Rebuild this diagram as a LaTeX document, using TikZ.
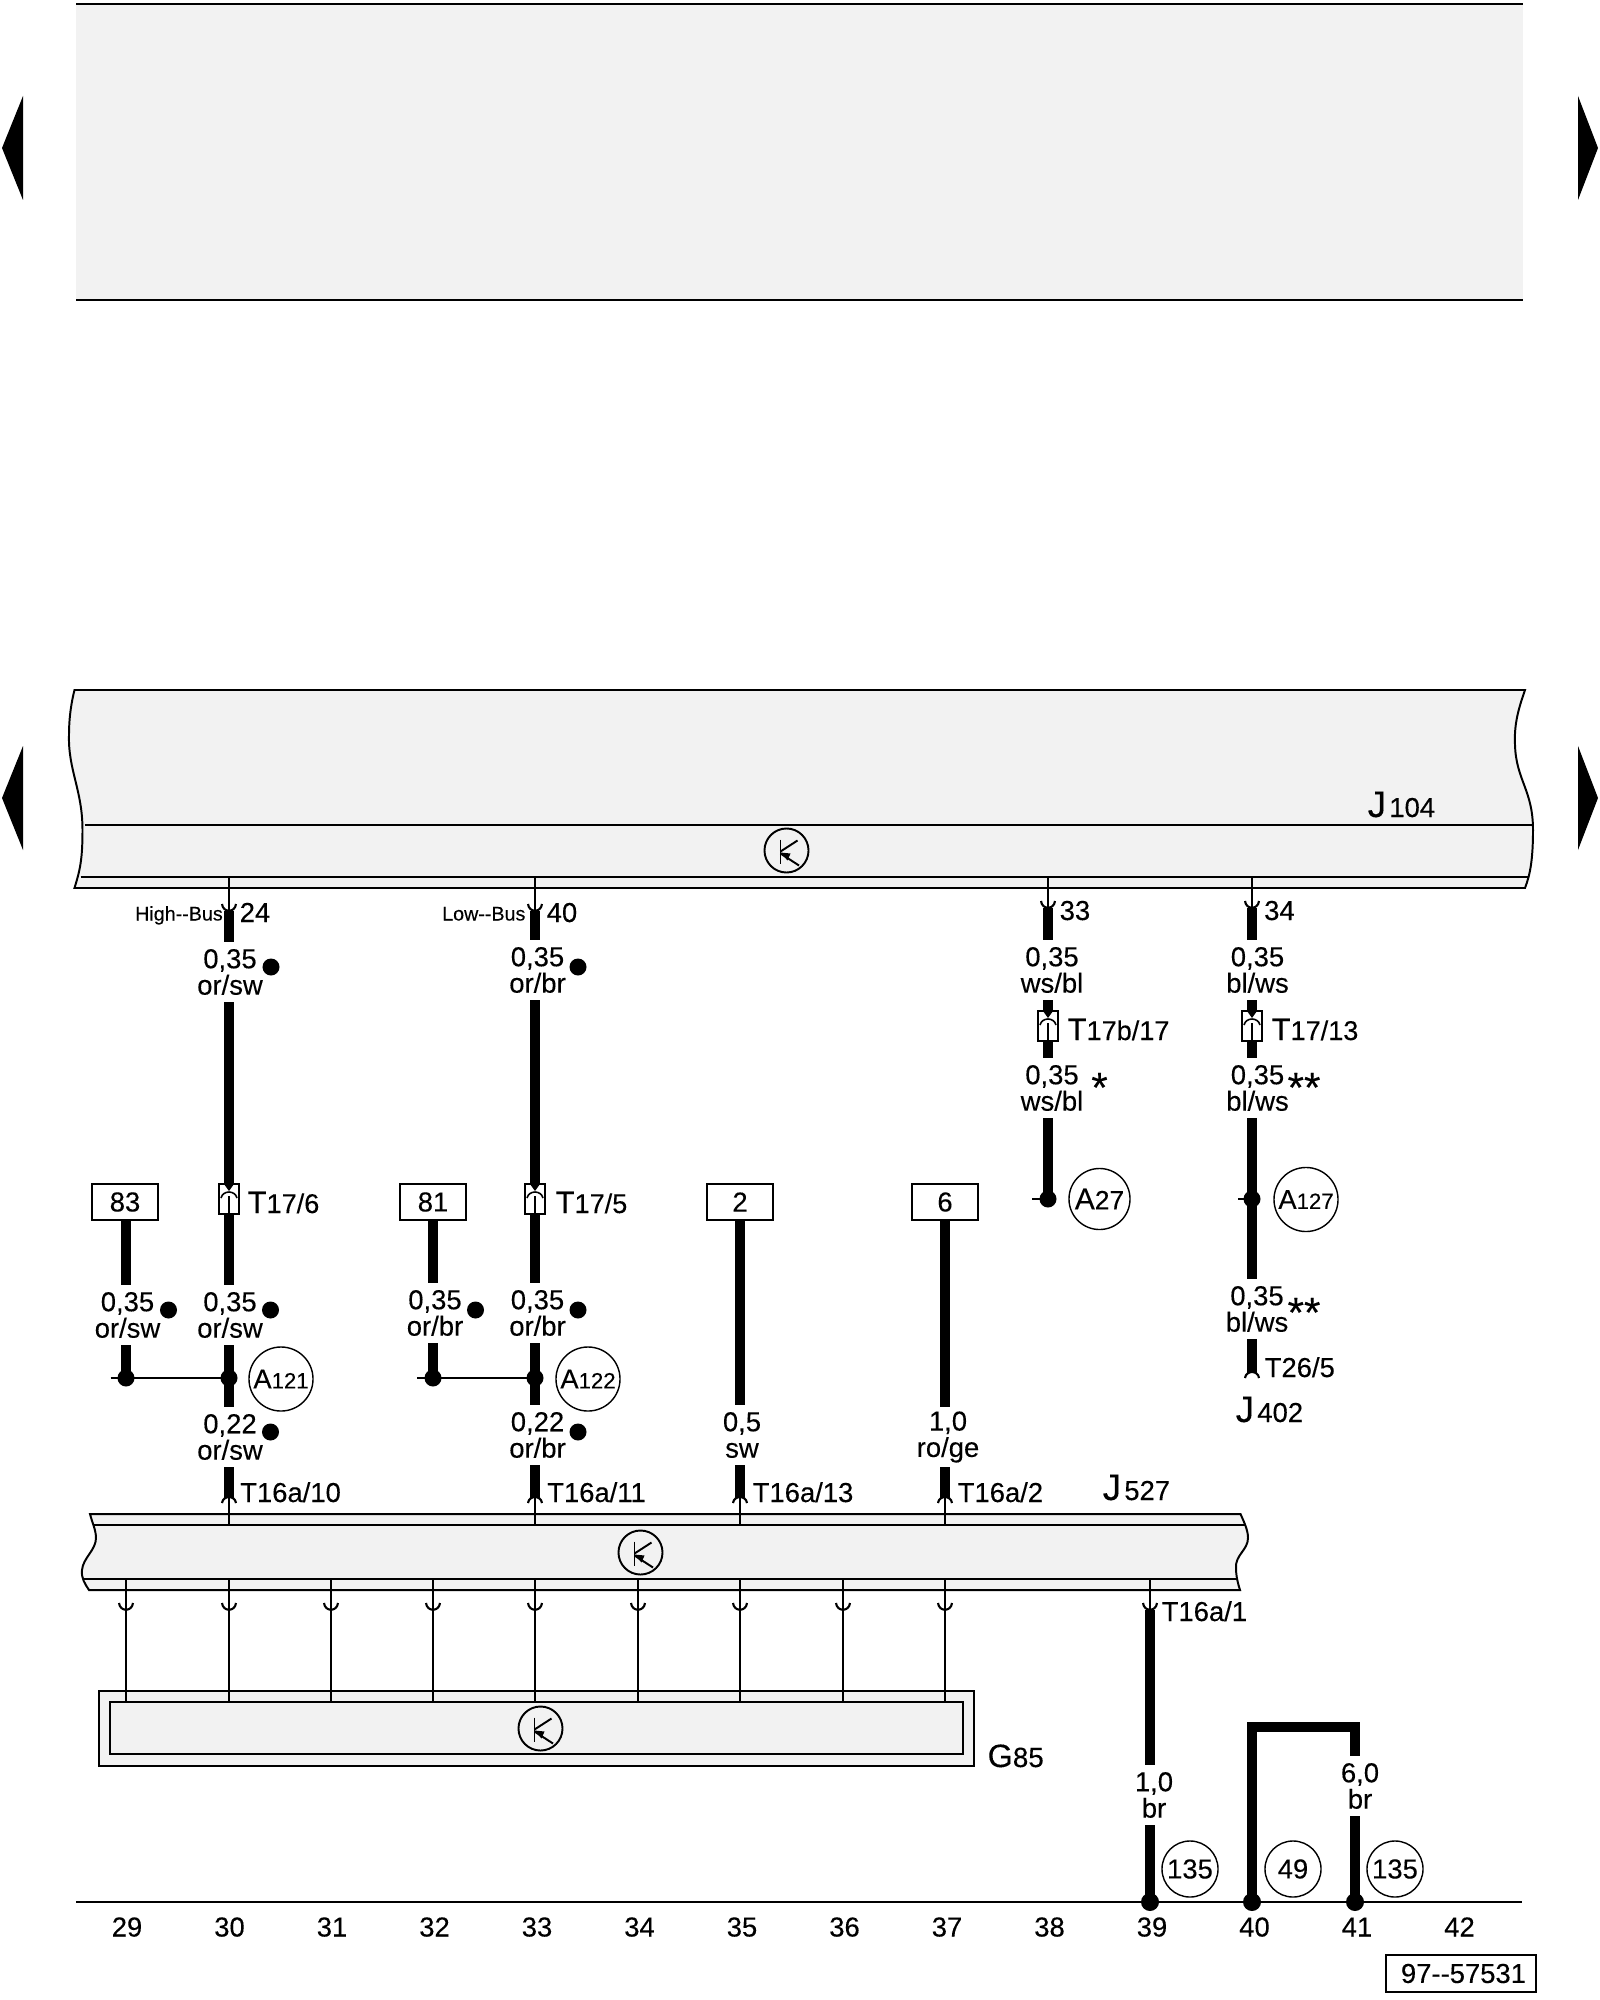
\documentclass[tikz,border=0pt]{standalone}
\usepackage{fontspec}
\setmainfont[FakeBold=0.2]{Liberation Sans}
\usetikzlibrary{positioning}

\definecolor{boxgray}{HTML}{F2F2F2}
\def\px{0.28453pt}
\newcommand{\bigT}[1]{{\fontsize{8.8}{9}\selectfont #1}}
\newcommand{\bigJ}[1]{{\fontsize{10.5}{10}\selectfont #1}\hspace{0.9pt}}
\newcommand{\smalld}[1]{{\fontsize{6.3}{7}\selectfont #1}}
\newcommand{\plugd}[1]{{\fontsize{7.7}{8}\selectfont #1}}

\tikzset{
	lab/.style={inner sep=0,font=\fontsize{7.8}{7.5}\selectfont},
	pinlab/.style={lab,anchor=base west},
	wirelab/.style={lab,align=center,outer sep=0,minimum height=60*\px},
	smalllab/.style={pinlab,font=\fontsize{5.6}{6}\selectfont},
	numbox/.style={lab,draw,line width=0.56pt,outer sep=0,minimum width=66*\px,minimum height=36*\px},
	conbox/.style={draw,fill=white,line width=0.45pt,inner sep=0,outer sep=0,minimum width=20*\px,minimum height=30*\px},
	wire/.style={line width=2.95pt},
	thinw/.style={line width=0.4pt},
	linkw/.style={line width=0.56pt},
	boxl/.style={line width=0.56pt},
	dot/.style={circle,fill=black,inner sep=0,outer sep=0,minimum size=17*\px},
	bigdot/.style={circle,fill=black,inner sep=0,outer sep=0,minimum size=18*\px},
	refc/.style={lab,circle,draw,line width=0.4pt,minimum size=64*\px},
	transc/.style={circle,draw,line width=0.55pt,inner sep=0,minimum size=44*\px},
	stars/.style={anchor=base,inner sep=0,font=\fontsize{12}{12}\selectfont},
	cupdn/.pic={\draw[line width=0.6pt] (-7,-7) .. controls (-6,2) and (6,2) .. (7,-7);},
	cupup/.pic={\draw[line width=0.6pt] (-7,5) .. controls (-6,-3) and (6,-3) .. (7,5);},
	plugsym/.pic={
		\fill (-5,-15) -- (5,-15) -- (0,-8) -- cycle;
		\draw[line width=0.45pt] (-8,-1) .. controls (-6,-9) and (6,-9) .. (8,-1);
		\draw[line width=0.35pt] (0,-3) -- (0,15);
	},
	transsym/.pic={
		\draw[line width=0.55pt] (-6,-11) -- (-6,13);
		\draw[line width=0.55pt] (-6,1) -- (11,-10);
		\draw[line width=0.55pt] (-6,3) -- (12.5,15);
		\fill (-6,2) -- (4,3) -- (1,10) -- cycle;
	}
}

\begin{document}
\begin{tikzpicture}[x=0.01cm,y=-0.01cm]

\useasboundingbox (0,0) rectangle (1600,2000);

\fill[boxgray] (76,4) rectangle (1523,300);
\draw[boxl] (76,4) -- (1523,4);
\draw[boxl] (76,300) -- (1523,300);

\foreach \y in {148,798}
	\fill (2,\y) -- (23,\y-52) -- (23,\y+52) -- cycle;
\foreach \y in {148,798}
	\fill (1598,\y) -- (1578,\y-52) -- (1578,\y+52) -- cycle;

\draw[boxl,fill=boxgray] (74.5,690) -- (1525,690) .. controls (1518,710) and (1514,725) .. (1515,745)
	.. controls (1516,780) and (1533,790) .. (1533,830) .. controls (1533,860) and (1530,875) .. (1525,888)
	-- (74.5,888) .. controls (80,870) and (82.5,860) .. (82.5,830)
	.. controls (82.5,790) and (68,770) .. (69,735) .. controls (69,715) and (72,700) .. (74.5,690) -- cycle;
\draw[boxl] (84.5,825) -- (1533,825);
\draw[boxl] (80.5,877) -- (1528,877);

\draw[boxl,fill=boxgray] (90,1514) -- (1240.5,1514) .. controls (1244,1522) and (1248,1530) .. (1248,1538)
	.. controls (1248,1550) and (1235,1555) .. (1236,1568) .. controls (1236,1576) and (1238,1584) .. (1240,1590)
	-- (89,1590) .. controls (85,1584) and (81,1578) .. (82,1570) .. controls (83,1558) and (96,1550) .. (96,1538)
	.. controls (96,1530) and (92,1522) .. (90,1514) -- cycle;
\draw[boxl] (94,1525) -- (1245,1525);
\draw[boxl] (83,1579) -- (1237,1579);

\draw[boxl,fill=boxgray] (99,1691) rectangle (974,1766);
\draw[boxl] (110,1702) rectangle (963,1754);

\node[transc] (tr104) at (786.5,850.5) {};
\node[transc] (tr527) at (640.5,1552.5) {};
\node[transc] (trG) at (540.5,1728.5) {};
\foreach \t in {tr104,tr527,trG}
	\pic at (\t) {transsym};

\foreach \n/\x in {29/126,30/229,31/331,32/433,33/535,34/638,35/740,36/843,37/945,38/1048,39/1150,40/1252,41/1355}
	\coordinate (x\n) at (\x,0);

\coordinate (p24) at (229,911);
\coordinate (p40) at (535,911);
\coordinate (p33) at (1048,908);
\coordinate (p34) at (1252,908);
\coordinate (q10) at (229,1498);
\coordinate (q11) at (535,1498);
\coordinate (q13) at (740,1498);
\coordinate (q2) at (945,1498);
\coordinate (q1) at (1150,1610);
\coordinate (q26) at (1252,1373);
\coordinate (s29) at (110.5,1378);
\coordinate (s32) at (417,1378);
\coordinate (s38) at (1032,1199);
\coordinate (s40) at (1238,1199);

\node[numbox] (b83) at (125,1202) {83};
\node[numbox] (b81) at (433,1202) {81};
\node[numbox] (b2) at (740,1202) {2};
\node[numbox] (b6) at (945,1202) {6};

\node[conbox] (c6) at (229,1199) {};
\node[conbox] (c5) at (535,1199) {};
\node[conbox] (c17) at (1048,1026) {};
\node[conbox] (c13) at (1252,1026) {};
\foreach \c in {c6,c5,c17,c13}
	\pic at (\c) {plugsym};

\node[wirelab] (l30a) at (230,972) {0,35\\or/sw};
\node[wirelab] (l30b) at (230,1315) {0,35\\or/sw};
\node[wirelab] (l30c) at (230,1437) {0,22\\or/sw};
\node[wirelab] (l29) at (127.5,1315) {0,35\\or/sw};
\node[wirelab] (l33a) at (537.5,970) {0,35\\or/br};
\node[wirelab] (l33b) at (537.5,1313) {0,35\\or/br};
\node[wirelab] (l33c) at (537.5,1435) {0,22\\or/br};
\node[wirelab] (l32) at (435,1313) {0,35\\or/br};
\node[wirelab] (l35) at (742,1435) {0,5\\sw};
\node[wirelab] (l37) at (948,1437) {1,0\\ro/ge};
\node[wirelab] (l38a) at (1052,970) {0,35\\ws/bl};
\node[wirelab] (l38b) at (1052,1088) {0,35\\ws/bl};
\node[wirelab] (l40a) at (1257.5,970) {0,35\\bl/ws};
\node[wirelab] (l40b) at (1257.5,1088) {0,35\\bl/ws};
\node[wirelab] (l40c) at (1257,1309) {0,35\\bl/ws};
\node[wirelab] (l39) at (1154,1795) {1,0\\br};
\node[wirelab] (l41) at (1360,1786) {6,0\\br};

\node[dot] (d29) at (126,1378) {};
\node[dot] (d30) at (229,1378) {};
\node[dot] (d32) at (433,1378) {};
\node[dot] (d33) at (535,1378) {};
\node[dot] (d38) at (1048,1199) {};
\node[dot] (d40) at (1252,1199) {};
\node[bigdot] (g39) at (1150,1902) {};
\node[bigdot] (g40) at (1252,1902) {};
\node[bigdot] (g41) at (1355,1902) {};

\foreach \n/\x/\y in {m1/271/967,m2/578/967,m3/168.5/1310,m4/270.5/1310,m5/475.5/1310,m6/578/1310,m7/270.5/1432,m8/578/1432}
	\node[dot] (\n) at (\x,\y) {};

\foreach \c/\a/\b in {x30/p24/l30a.north,x30/l30a.south/c6.north,x30/c6.south/l30b.north,x30/l30b.south/d30,x30/d30/l30c.north,x30/l30c.south/q10,
	x29/b83.south/l29.north,x29/l29.south/d29,
	x33/p40/l33a.north,x33/l33a.south/c5.north,x33/c5.south/l33b.north,x33/l33b.south/d33,x33/d33/l33c.north,x33/l33c.south/q11,
	x32/b81.south/l32.north,x32/l32.south/d32,
	x35/b2.south/l35.north,x35/l35.south/q13,
	x37/b6.south/l37.north,x37/l37.south/q2,
	x38/p33/l38a.north,x38/l38a.south/c17.north,x38/c17.south/l38b.north,x38/l38b.south/d38,
	x40/p34/l40a.north,x40/l40a.south/c13.north,x40/c13.south/l40b.north,x40/l40b.south/d40,x40/d40/l40c.north,x40/l40c.south/q26,
	x39/q1/l39.north,x39/l39.south/g39,
	x41/l41.south/g41}
	\draw[wire] (\c |- \a) -- (\c |- \b);
\draw[wire] (g40.center) -- (1252,1727) -| (x41 |- l41.north);

\draw[linkw] (s29) -- (d29.center) -- (d30.center);
\draw[linkw] (s32) -- (d32.center) -- (d33.center);
\draw[linkw] (s38) -- (d38.center);
\draw[linkw] (s40) -- (d40.center);

\foreach \p in {p24,p40,p33,p34}
	\draw[thinw] (\p) -- (\p |- 0,878);
\foreach \p in {p24,p40,p33,p34}
	\pic at (\p) {cupdn};
\foreach \p in {q10,q11,q13,q2}
	\draw[thinw] (\p) -- (\p |- 0,1525);
\foreach \p in {q10,q11,q13,q2,q26}
	\pic at (\p) {cupup};
\draw[thinw] (q1) -- (q1 |- 0,1579);
\pic at (q1) {cupdn};

\foreach \c in {x29,x30,x31,x32,x33,x34,x35,x36,x37}
	\draw[thinw] (\c |- 0,1579) -- (\c |- 0,1702);
\foreach \c in {x29,x30,x31,x32,x33,x34,x35,x36,x37}
	\pic at (\c |- 0,1610) {cupdn};

\draw[linkw] (76,1902) -- (1522,1902);

\node[smalllab] (hb) at (134.5,920.5) {High{-}{-}Bus};
\node[smalllab] (lb) at (441.5,920.5) {Low{-}{-}Bus};
\node[pinlab] (t24) at (239,922) {24};
\node[pinlab] (t40) at (546,922) {40};
\node[pinlab] (t33) at (1059,920) {33};
\node[pinlab] (t34) at (1263.5,920) {34};
\node[pinlab] (t176) at (247,1213) {\bigT{T}\plugd{17/6}};
\node[pinlab] (t175) at (555,1213) {\bigT{T}\plugd{17/5}};
\node[pinlab] (t1717) at (1067,1040) {\bigT{T}\plugd{17b/17}};
\node[pinlab] (t1713) at (1271,1040) {\bigT{T}\plugd{17/13}};
\node[pinlab] (t1610) at (239.5,1502) {T16a/10};
\node[pinlab] (t1611) at (546.5,1502) {T16a/11};
\node[pinlab] (t1613) at (752,1502) {T16a/13};
\node[pinlab] (t162) at (957,1502) {T16a/2};
\node[pinlab] (t161) at (1161,1621) {T16a/1};
\node[pinlab] (t265) at (1264,1377) {T26/5};

\node[pinlab] (j104) at (1367,817) {\bigJ{J}104};
\node[pinlab] (j527) at (1102,1500) {\bigJ{J}527};
\node[pinlab] (j402) at (1235,1422) {\bigJ{J}402};
\node[pinlab] (g85) at (987,1767) {{\fontsize{9.2}{9}\selectfont G}{\fontsize{7.9}{8}\selectfont 85}};

\node[refc] (a121) at (281,1379) {A\smalld{121}};
\node[refc] (a122) at (588,1379) {A\smalld{122}};
\node[refc,minimum size=61*\px] (a27) at (1099.5,1199) {{\fontsize{8.5}{9}\selectfont A}{\fontsize{7.5}{8}\selectfont 27}};
\node[refc] (a127) at (1306,1199.5) {A\smalld{127}};
\node[refc,minimum size=56*\px] (w135a) at (1190,1869) {135};
\node[refc,minimum size=56*\px] (w49) at (1293,1869) {49};
\node[refc,minimum size=56*\px] (w135b) at (1395,1869) {135};

\node[stars] (st1) at (1099.5,1102) {*};
\node[stars] (st2) at (1304,1102) {**};
\node[stars] (st3) at (1304,1327) {**};

\foreach \n [evaluate=\n as \x using 127+(\n-29)*102.5] in {29,...,42}
	\node[lab,anchor=base] (n\n) at (\x,1936.5) {\n};

\node[lab,draw,line width=0.56pt,minimum width=150*\px,minimum height=37*\px] (docno) at (1461,1973.5) {\hspace*{1.4pt}97{-}{-}57531};

\end{tikzpicture}
\end{document}
